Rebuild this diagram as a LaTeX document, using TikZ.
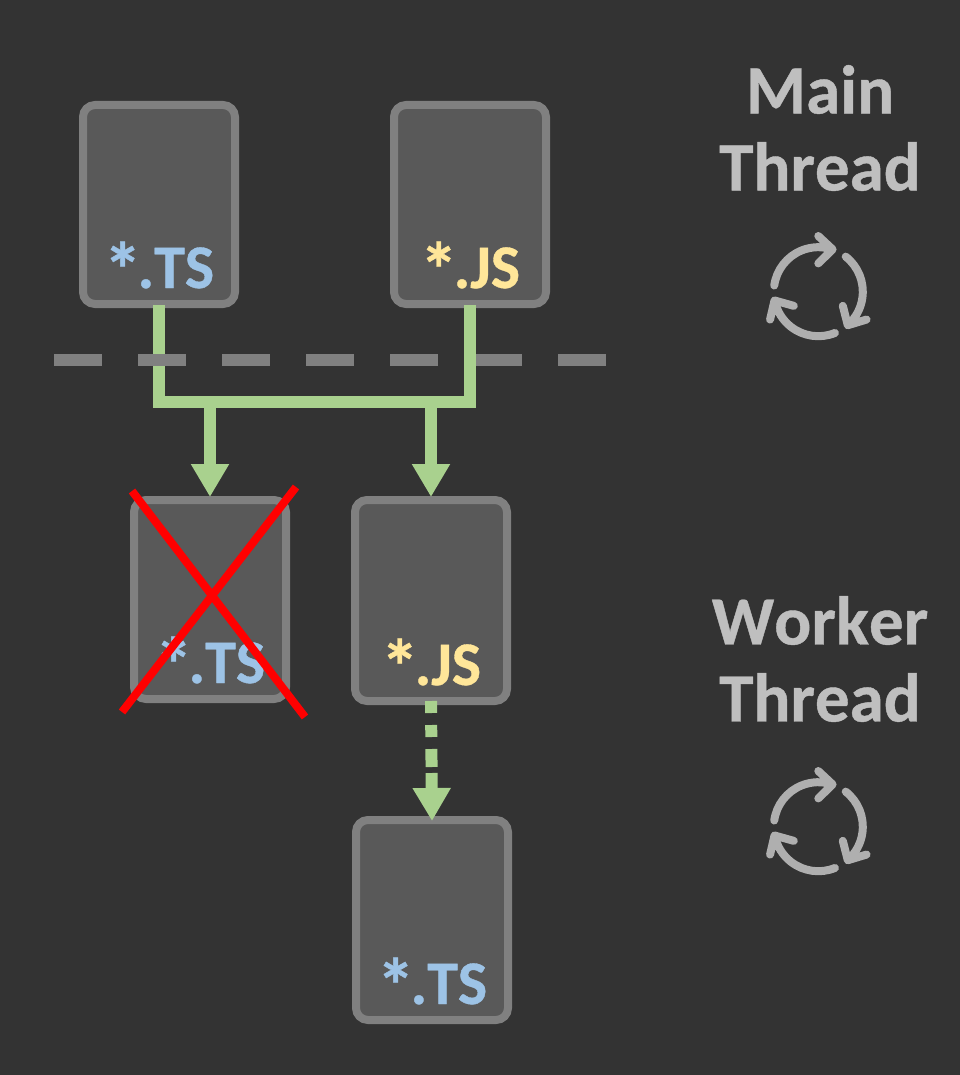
\documentclass[tikz,border=0pt]{standalone}
\usepackage{fontspec}
\setmainfont[Kerning=Off, BoldFeatures={FakeBold=0.6}]{Carlito}
\usetikzlibrary{arrows.meta,positioning,calc}
\definecolor{pagebg}{HTML}{333333}
\definecolor{boxfill}{HTML}{595959}
\definecolor{boxline}{HTML}{808080}
\definecolor{tsblue}{HTML}{9DC3E6}
\definecolor{jsyellow}{HTML}{FFE699}
\definecolor{linkgreen}{HTML}{A9D18E}
\definecolor{threadgray}{HTML}{BFBFBF}
\definecolor{icongray}{HTML}{AFAFAF}
\newcommand{\filestar}{\raisebox{-8pt}{\fontsize{76}{76}\selectfont *}\kern-4pt}
\begin{document}
\begin{tikzpicture}[
  x=1pt, y=1pt,
  node distance=40pt,
  filebox/.style={draw=boxline, fill=boxfill, line width=8pt, rounded corners=12pt,
              minimum width=152pt, minimum height=199pt},
  tslabel/.style={font=\fontsize{62}{62}\selectfont\bfseries, text=tsblue, inner sep=0pt},
  jslabel/.style={font=\fontsize{62}{62}\selectfont\bfseries, text=jsyellow, inner sep=0pt},
  threadlabel/.style={font=\fontsize{69}{77}\selectfont\bfseries, text=threadgray,
              align=center, inner sep=0pt},
  link/.style={draw=linkgreen, line width=12pt},
  arr/.style={link, -{Triangle[length=33pt, width=36pt]}},
  divider/.style={draw=boxline, line width=12pt, dash pattern=on 48pt off 36pt},
  strike/.style={draw=red, line width=8pt},
  cycleicon/.pic={
    \foreach \a in {0,-120,-240} {
      \draw[icongray, line width=8pt, line cap=round, line join=round, rotate=\a]
        (172:44.5pt) arc[start angle=172, end angle=72, radius=44.5pt]
        (0,55.7) -- (14.3,42.3) -- (0,28.3);
    }
  }
]
  \fill[pagebg] (0,0) rectangle (960,-1075);
  \useasboundingbox (0,0) rectangle (960,-1075);

  \node[filebox] (tsmain) at (159,-204.5) {};
  \node[filebox, right=151pt of tsmain] (jsmain) {};
  \node[filebox] (tsworker) at (210,-599.5) {};
  \node[filebox, right=61pt of tsworker, yshift=-1pt, minimum height=201pt] (jsworker) {};
  \node[filebox, below=111pt of jsworker, xshift=1pt, minimum height=200pt] (tsdone) {};

  \node[tslabel, anchor=base] (tsmaintext) at ($(tsmain.south)+(0,20)$) {\filestar.TS};
  \node[jslabel, anchor=base] (jsmaintext) at ($(jsmain.south)+(0,20)$) {\filestar.JS};
  \node[tslabel, anchor=base] (tsworkertext) at ($(tsworker.south)+(0,20)$) {\filestar.TS};
  \node[jslabel, anchor=base] (jsworkertext) at ($(jsworker.south)+(0,20)$) {\filestar.JS};
  \node[tslabel, anchor=base] (tsdonetext) at ($(tsdone.south)+(0,20)$) {\filestar.TS};

  \node[threadlabel] (mainthread) at (820,-128) {Main\\Thread};
  \node[threadlabel] (workerthread) at (820,-659) {Worker\\Thread};
  \pic at (818.3,-291.7) {cycleicon};
  \pic at (818.3,-826.7) {cycleicon};

  \coordinate (rail) at (0,-402);

  % the divider runs over the left link and under the right one
  \draw[link] ([yshift=3pt]tsmain.south) |- (rail -| jsmain.south) -- ([yshift=3pt]jsmain.south);
  \draw[divider] (54,-360) -- (606,-360);
  \draw[link] ([yshift=3pt]jsmain.south) -- (rail -| jsmain.south);
  \draw[arr] (rail -| tsworker.north) -- ([yshift=-1pt]tsworker.north);
  \draw[arr] (rail -| jsworker.north) -- ([yshift=-1pt]jsworker.north);
  \draw[arr, dash pattern=on 12pt off 12pt on 12pt off 12pt on 18pt off 6pt on 12pt off 0pt]
    ([yshift=4pt]jsworker.south) -- ([yshift=-5pt]tsdone.north);

  \coordinate (crossa) at ($(tsworker.center)+(-78,108.5)$);
  \coordinate (crossb) at ($(tsworker.center)+(95,-117.5)$);
  \coordinate (crossc) at ($(tsworker.center)+(86,112.5)$);
  \coordinate (crossd) at ($(tsworker.center)+(-88,-112.5)$);
  \draw[strike] (crossa) -- (crossb);
  \draw[strike] (crossc) -- (crossd);
\end{tikzpicture}
\end{document}
